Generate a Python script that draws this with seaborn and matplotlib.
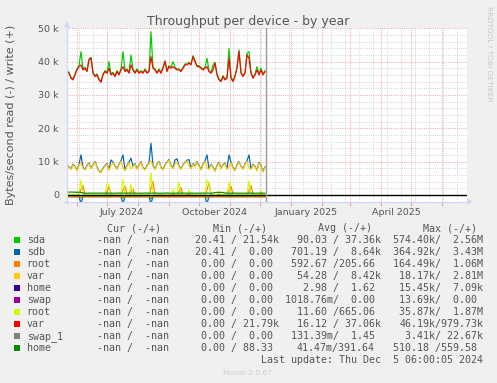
import matplotlib
matplotlib.use("Agg")
import matplotlib.pyplot as plt
import pandas as pd
import seaborn as sns
from matplotlib.lines import Line2D
from matplotlib.patches import Polygon, Rectangle

# ---------------- data (values in thousands of bytes/second) ----------------
dates = pd.date_range("2024-05-22", periods=100, freq="2D")

var_red_write = [
    37.0, 36.5, 35.0, 34.5, 36.0, 37.5, 38.5, 39.0, 37.5, 38.0,
    37.0, 40.5, 41.0, 36.5, 35.5, 36.0, 34.5, 33.8, 36.0, 37.0,
    36.5, 38.0, 36.0, 36.5, 35.5, 37.0, 36.0, 37.5, 38.5, 37.0,
    37.5, 36.5, 39.0, 37.5, 36.5, 37.5, 36.5, 37.0, 36.5, 37.5,
    36.5, 37.0, 41.5, 38.0, 37.5, 36.5, 37.5, 36.5, 38.0, 40.0,
    37.0, 38.5, 38.0, 38.5, 38.0, 37.5, 37.5, 37.0, 38.0, 39.0,
    39.0, 39.5, 39.0, 41.5, 40.0, 38.5, 38.5, 38.0, 37.5, 38.0,
    38.5, 37.0, 36.5, 37.5, 39.5, 36.0, 34.5, 34.0, 35.5, 34.5,
    35.0, 41.0, 35.0, 34.0, 35.5, 38.0, 43.0, 36.5, 35.5, 36.5,
    42.0, 41.0, 36.5, 35.0, 36.0, 37.5, 36.0, 37.5, 36.0, 37.0]

sda_write = [
    37.3, 36.8, 35.3, 34.8, 36.3, 37.8, 38.8, 43.0, 37.8, 38.3,
    37.3, 40.8, 41.3, 36.8, 35.8, 36.3, 34.8, 34.1, 36.3, 37.3,
    36.8, 40.0, 36.3, 36.8, 35.8, 37.3, 36.3, 37.8, 43.0, 37.3,
    37.8, 36.8, 42.0, 37.8, 36.8, 37.8, 36.8, 37.3, 36.8, 37.8,
    36.8, 37.3, 49.0, 38.3, 37.8, 36.8, 37.8, 36.8, 38.3, 40.3,
    37.3, 38.8, 38.3, 40.0, 38.3, 37.8, 37.8, 37.3, 38.3, 39.3,
    39.3, 39.8, 39.3, 41.8, 40.3, 38.8, 38.8, 38.3, 37.8, 38.3,
    41.0, 37.3, 36.8, 39.0, 39.8, 36.3, 34.8, 34.3, 35.8, 34.8,
    35.3, 44.0, 35.3, 34.3, 35.8, 38.3, 43.5, 36.8, 35.8, 36.8,
    42.5, 43.0, 36.8, 35.3, 36.3, 38.5, 36.3, 38.0, 36.3, 37.3]

var_yellow_write = [
    8.8, 8.2, 7.6, 9.0, 8.4, 7.2, 8.9, 9.6, 8.0, 7.4,
    8.6, 9.4, 7.8, 8.8, 9.8, 8.2, 7.0, 6.6, 7.8, 8.6,
    9.2, 7.4, 8.8, 9.6, 8.4, 7.6, 9.0, 10.0, 8.2, 7.2,
    8.6, 9.6, 7.8, 8.4, 9.2, 7.6, 8.8, 9.8, 8.0, 7.4,
    8.6, 9.4, 10.2, 8.6, 7.6, 9.0, 9.8, 8.2, 7.4, 8.8,
    9.6, 10.4, 8.6, 7.8, 9.2, 9.8, 8.4, 7.6, 8.8, 9.6,
    10.2, 8.8, 7.8, 9.2, 8.4, 9.8, 8.6, 7.4, 9.0, 10.0,
    8.2, 7.6, 9.0, 8.2, 7.0, 8.6, 9.6, 7.8, 8.8, 9.4,
    7.6, 8.4, 9.6, 8.0, 7.2, 8.8, 9.8, 8.4, 7.6, 9.2,
    10.0, 8.2, 7.6, 9.0, 8.4, 7.2, 9.6, 8.6, 6.8, 8.2]

sdb_write = [
    9.0, 8.4, 7.8, 9.2, 8.6, 7.4, 9.1, 12.0, 8.2, 7.6,
    8.8, 9.6, 8.0, 9.0, 10.0, 8.4, 7.2, 6.8, 8.0, 8.8,
    9.4, 7.6, 10.5, 9.8, 8.6, 7.8, 9.2, 10.2, 12.0, 7.4,
    8.8, 9.8, 11.0, 8.6, 9.4, 7.8, 9.0, 10.0, 8.2, 7.6,
    8.8, 9.6, 15.5, 8.8, 7.8, 9.2, 10.0, 8.4, 7.6, 9.0,
    9.8, 10.6, 8.8, 8.0, 10.5, 10.8, 8.6, 7.8, 9.0, 9.8,
    10.4, 10.6, 8.0, 9.4, 8.6, 10.0, 8.8, 7.6, 9.2, 10.2,
    12.0, 7.8, 9.2, 8.4, 7.2, 8.8, 9.8, 8.0, 9.0, 9.6,
    7.8, 12.0, 9.8, 8.2, 7.4, 9.0, 10.0, 8.6, 7.8, 9.4,
    10.2, 12.0, 7.8, 9.2, 8.6, 7.4, 9.8, 8.8, 7.0, 8.4]

root_lime_write = [
    0.1, 0.1, 0.1, 0.1, 0.1, 0.1, 0.1, 4.5, 0.3, 0.1,
    0.1, 0.1, 0.1, 0.1, 0.1, 0.1, 0.1, 0.1, 0.1, 0.1,
    3.4, 3.0, 0.3, 0.1, 0.1, 0.1, 0.1, 0.1, 4.6, 0.3,
    0.1, 0.1, 3.2, 0.1, 0.1, 0.1, 0.1, 0.1, 0.1, 0.1,
    0.1, 0.1, 6.6, 0.5, 0.1, 0.1, 0.1, 0.1, 0.1, 0.1,
    0.1, 0.1, 0.1, 1.6, 0.1, 0.1, 3.8, 0.3, 0.1, 0.1,
    0.1, 1.4, 0.1, 0.1, 0.1, 0.1, 0.1, 0.1, 0.1, 0.1,
    4.5, 3.2, 0.3, 0.1, 0.1, 0.1, 1.0, 0.1, 0.1, 0.1,
    0.1, 3.9, 0.3, 0.1, 0.1, 0.1, 0.1, 0.1, 0.1, 0.1,
    0.1, 4.2, 0.3, 0.1, 0.1, 0.1, 0.1, 1.2, 0.1, 0.1]

root_orange_write = [
    0.1, 0.1, 0.1, 0.1, 0.1, 0.1, 0.1, 1.5, 2.8, 0.1,
    0.1, 0.1, 0.1, 0.1, 0.1, 0.1, 0.1, 0.1, 0.1, 0.1,
    1.0, 2.4, 0.1, 0.1, 0.1, 0.1, 0.1, 0.1, 1.5, 2.6,
    0.1, 0.1, 1.0, 1.8, 0.1, 0.1, 0.1, 0.1, 0.1, 0.1,
    0.1, 0.1, 2.0, 4.0, 0.1, 0.1, 0.1, 0.1, 0.1, 0.1,
    0.1, 0.1, 0.1, 0.1, 0.1, 0.1, 1.0, 2.2, 0.1, 0.1,
    0.1, 0.1, 0.1, 0.1, 0.1, 0.1, 0.1, 0.1, 0.1, 0.1,
    1.5, 3.6, 0.1, 0.1, 0.1, 0.1, 0.1, 0.1, 0.1, 0.1,
    0.1, 1.2, 2.6, 0.1, 0.1, 0.1, 0.1, 0.1, 0.1, 0.1,
    0.1, 1.2, 2.8, 0.1, 0.1, 0.1, 0.1, 0.1, 0.1, 0.1]

root_orange_read = [
    -0.60, -0.61, -0.60, -0.59, -0.60, -0.62, -0.60, -0.63, -0.60, -0.59,
    -0.60, -0.61, -0.60, -0.60, -0.59, -0.60, -0.61, -0.60, -0.60, -0.59,
    -0.60, -0.62, -0.60, -0.60, -0.61, -0.60, -0.59, -0.60, -0.63, -0.60,
    -0.60, -0.61, -0.60, -0.59, -0.60, -0.60, -0.61, -0.60, -0.59, -0.60,
    -0.60, -0.61, -0.64, -0.60, -0.59, -0.60, -0.60, -0.61, -0.60, -0.60,
    -0.59, -0.60, -0.61, -0.60, -0.60, -0.59, -0.60, -0.61, -0.60, -0.60,
    -0.60, -0.59, -0.60, -0.61, -0.60, -0.60, -0.59, -0.60, -0.61, -0.60,
    -0.62, -0.60, -0.59, -0.60, -0.60, -0.61, -0.60, -0.60, -0.59, -0.60,
    -0.60, -0.61, -0.60, -0.60, -0.59, -0.60, -0.61, -0.60, -0.60, -0.59,
    -0.60, -0.61, -0.60, -0.60, -0.59, -0.60, -0.61, -0.60, -0.60, -0.60]

sdb_read = [
    -0.55, -0.55, -0.55, -0.55, -0.55, -0.55, -0.55, -2.60, -0.60, -0.55,
    -0.55, -0.55, -0.55, -0.55, -0.55, -0.55, -0.55, -0.55, -0.55, -0.55,
    -0.55, -0.55, -0.55, -0.55, -0.55, -0.55, -0.55, -0.55, -2.60, -0.60,
    -0.55, -0.55, -0.55, -0.55, -0.55, -0.55, -0.55, -0.55, -0.55, -0.55,
    -0.55, -0.55, -2.60, -0.60, -0.55, -0.55, -0.55, -0.55, -0.55, -0.55,
    -0.55, -0.55, -0.55, -0.55, -0.55, -0.55, -0.55, -0.55, -0.55, -0.55,
    -0.55, -0.55, -0.55, -0.55, -0.55, -0.55, -0.55, -0.55, -0.55, -0.55,
    -2.60, -0.60, -0.55, -0.55, -0.55, -0.55, -0.55, -0.55, -0.55, -0.55,
    -0.55, -0.55, -0.55, -0.55, -0.55, -0.55, -0.55, -0.55, -0.55, -0.55,
    -0.55, -0.55, -0.55, -0.55, -0.55, -0.55, -0.55, -0.55, -0.55, -0.55]

sda_read = [
    -0.10, -0.10, -0.10, -0.10, -0.10, -0.10, -0.10, -1.00, -0.20, -0.10,
    -0.10, -0.10, -0.10, -0.30, -0.10, -0.10, -0.10, -0.10, -0.10, -0.10,
    -0.10, -0.10, -0.10, -0.10, -0.10, -0.10, -0.10, -0.10, -1.00, -0.20,
    -0.10, -0.10, -0.10, -0.10, -0.10, -0.10, -0.10, -0.10, -0.10, -0.10,
    -0.10, -0.10, -1.20, -0.20, -0.10, -0.10, -0.10, -0.10, -0.10, -0.10,
    -0.10, -0.10, -0.10, -0.10, -0.10, -0.10, -0.10, -0.10, -0.10, -0.10,
    -0.10, -0.10, -0.10, -0.10, -0.10, -0.10, -0.10, -0.10, -0.10, -0.10,
    -0.90, -0.20, -0.10, -0.10, -0.10, -0.10, -0.10, -0.10, -0.10, -0.10,
    -0.10, -0.10, -0.10, -0.10, -0.10, -0.10, -0.10, -0.10, -0.10, -0.10,
    -0.10, -0.10, -0.10, -0.10, -0.10, -0.10, -0.10, -0.10, -0.10, -0.10]

home_green_write = [
    0.85, 0.80, 0.85, 0.80, 0.80, 0.75, 0.80, 0.70, 0.55, 0.50,
    0.50, 0.50, 0.55, 0.50, 0.50, 0.50, 0.50, 0.55, 0.50, 0.50,
    0.50, 0.55, 0.50, 0.50, 0.50, 0.50, 0.55, 0.50, 0.50, 0.50,
    0.50, 0.50, 0.50, 0.55, 0.50, 0.50, 0.50, 0.50, 0.50, 0.55,
    0.50, 0.50, 0.50, 0.50, 0.55, 0.50, 0.50, 0.50, 0.50, 0.50,
    0.55, 0.50, 0.50, 0.50, 0.50, 0.50, 0.50, 0.55, 0.50, 0.50,
    0.50, 0.50, 0.55, 0.50, 0.50, 0.50, 0.50, 0.50, 0.55, 0.50,
    0.50, 0.50, 0.50, 0.55, 0.70, 0.75, 0.70, 0.75, 0.70, 0.55,
    0.50, 0.50, 0.50, 0.50, 0.55, 0.50, 0.50, 0.50, 0.50, 0.50,
    0.50, 0.55, 0.50, 0.50, 0.50, 0.50, 0.50, 0.55, 0.50, 0.50]

# legend table
leg_labels = ["sda", "sdb", "root", "var", "home", "swap", "root", "var", "swap_1", "home"]
leg_colors = ["#00CC00", "#0066B3", "#FF8000", "#FFCC00", "#330099",
              "#990099", "#CCFF00", "#FF0000", "#808080", "#008F00"]
col_cur = ["  -nan /  -nan ", "  -nan /  -nan ", "  -nan /  -nan ", "  -nan /  -nan ",
           "  -nan /  -nan ", "  -nan /  -nan ", "  -nan /  -nan ", "  -nan /  -nan ",
           "  -nan /  -nan ", "  -nan /  -nan "]
col_min = [" 20.41 / 21.54k", " 20.41 /  0.00 ", "  0.00 /  0.00 ", "  0.00 /  0.00 ",
           "  0.00 /  0.00 ", "  0.00 /  0.00 ", "  0.00 /  0.00 ", "  0.00 / 21.79k",
           "  0.00 /  0.00 ", "  0.00 / 88.33 "]
col_avg = [" 90.03 / 37.36k", "701.19 /  8.64k", "592.67 /205.66 ", " 54.28 /  8.42k",
           "  2.98 /  1.62 ", "1018.76m/  0.00 ", " 11.60 /665.06 ", " 16.12 / 37.06k",
           "131.39m/  1.45 ", " 41.47m/391.64 "]
col_max = ["574.40k/  2.56M", "364.92k/  3.43M", "164.49k/  1.06M", " 18.17k/  2.81M",
           " 15.45k/  7.09k", " 13.69k/  0.00 ", " 35.87k/  1.87M", " 46.19k/979.73k",
           "  3.41k/ 22.67k", "510.18 /559.58 "]
headers = ["Cur (-/+)", "Min (-/+)", "Avg (-/+)", "Max (-/+)"]

y_ticks = [0, 10, 20, 30, 40, 50]
y_tick_labels = ["0", "10 k", "20 k", "30 k", "40 k", "50 k"]
x_label_dates = ["2024-07-16", "2024-10-16", "2025-01-16", "2025-04-16"]
x_tick_labels = ["July 2024", "October 2024", "January 2025", "April 2025"]

title = "Throughput per device - by year"
ylabel = "Bytes/second read (-) / write (+)"
last_update = "Last update: Thu Dec  5 06:00:05 2024"

# ---------------- figure ----------------
W, H = 497, 383
fig = plt.figure(figsize=(W / 100, H / 100), dpi=100, facecolor="#F0F0F0")
L, R, T, B = 67, 467, 28.3, 201.5
fx = lambda x: x / W
fy = lambda y: 1 - y / H
ax = fig.add_axes([fx(L), fy(B), (R - L) / W, (B - T) / H])
ax.set_facecolor("white")

x0, x1 = pd.Timestamp("2024-05-22"), pd.Timestamp("2025-06-26")

# grid
dot = (0, (1, 1.2))
for v in [2, 4, 6, 8, 12, 14, 16, 18, 22, 24, 26, 28, 32, 34, 36, 38, 42, 44, 46, 48]:
    ax.axhline(v, color="#D8D8D8", lw=0.72, ls=dot, zorder=0.5)
for d in pd.date_range("2024-06-03", "2025-06-26", freq="14D"):
    ax.axvline(d, color="#D8D8D8", lw=0.72, ls=dot, zorder=0.5)
for v in [10, 20, 30, 40, 50]:
    ax.axhline(v, color="#F2A8A8", lw=0.72, ls=dot, zorder=0.6, clip_on=False)
for d in pd.date_range("2024-06-01", "2025-06-01", freq="MS"):
    ax.axvline(d, color="#F2A8A8", lw=0.72, ls=dot, zorder=0.6)

lw = 0.85
series = [
    (sda_write, "#00CC00"), (sda_read, "#00CC00"),
    (sdb_write, "#0066B3"), (sdb_read, "#0066B3"),
    (root_orange_write, "#FF8000"), (root_orange_read, "#FF8000"),
    (var_yellow_write, "#FFCC00"),
    (root_lime_write, "#CCFF00"),
    (var_red_write, "#FF0000"),
    (home_green_write, "#008F00"),
]
for vals, c in series:
    sns.lineplot(x=dates, y=vals, color=c, lw=lw, ax=ax, legend=False, estimator=None)

ax.axhline(0, color="black", lw=1.0, zorder=2.5)
ax.axvline(pd.Timestamp("2024-12-06 12:00"), color="#9A9A9A", lw=1.0, zorder=2.6)

ax.set_xlim(x0, x1)
ax.set_ylim(-2, 50)
for s in ax.spines.values():
    s.set_visible(False)
ax.set_xlabel("")
ax.set_ylabel("")

ax.set_yticks(y_ticks)
ax.set_yticklabels(y_tick_labels)
ax.set_xticks(pd.to_datetime(x_label_dates))
ax.set_xticklabels(x_tick_labels)
ax.tick_params(axis="both", which="major", length=0, labelsize=6.8, labelcolor="#555555")
ax.tick_params(axis="y", pad=5.8)
ax.tick_params(axis="x", pad=4.5)
ax.set_xticks(pd.date_range("2024-06-01", "2025-06-01", freq="MS"), minor=True)
ax.tick_params(axis="x", which="minor", length=3, width=0.8, color="#F2A0A0", direction="out")
ax.tick_params(axis="y", which="minor", length=0)

# axes lines with arrows (rrdtool style)
axis_col = "#CFD6F8"
fig.add_artist(Line2D([fx(L), fx(L)], [fy(B + 3), fy(T - 2)], color=axis_col, lw=0.9))
fig.add_artist(Line2D([fx(L - 3), fx(R)], [fy(B), fy(B)], color=axis_col, lw=0.9))
fig.add_artist(Polygon([[fx(L), fy(T - 7)], [fx(L - 3), fy(T - 1)], [fx(L + 3), fy(T - 1)]],
                       closed=True, color=axis_col, lw=0))
fig.add_artist(Polygon([[fx(R + 6), fy(B)], [fx(R), fy(B - 3)], [fx(R), fy(B + 3)]],
                       closed=True, color=axis_col, lw=0))

# title, y label, watermark
fig.text(fx(248.5), fy(25), title, ha="center", va="baseline", fontsize=9, color="#555555")
fig.text(fx(11), fy(115), ylabel, rotation=90, ha="center", va="center",
         fontsize=8, color="#555555")
fig.text(fx(488.5), fy(53.5), "RRDTOOL / TOBI OETIKER", rotation=270, ha="center",
         va="center", fontsize=5.4, color="#C8C8C8")
fig.text(fx(247.5), fy(375), "Munin 2.0.67", ha="center", va="baseline",
         fontsize=5.4, color="#CCCCCC")

# legend table
mono = dict(family="DejaVu Sans Mono", fontsize=7.2, color="#555555")
cw = 7.2 * 100 / 72 * 0.6021


def put_right(s, x_end_ink, y_base):
    n_trail = len(s) - len(s.rstrip(" "))
    fig.text(fx(x_end_ink - n_trail * cw), fy(y_base), s.strip(), ha="right",
             va="baseline", **mono)


for hx, htxt in zip([107.3, 213.3, 317.7, 422.7], headers):
    fig.text(fx(hx), fy(231.3), htxt, ha="left", va="baseline", **mono)

for i, lab in enumerate(leg_labels):
    yb = 243.3 + 12 * i
    fig.add_artist(Rectangle((fx(14), fy(yb - 0.3)), 6 / W, 6 / H, color=leg_colors[i], lw=0))
    fig.text(fx(26.7), fy(yb), lab, ha="left", va="baseline", **mono)
    put_right(col_cur[i], 175.5, yb)
    put_right(col_min[i], 279.0, yb)
    put_right(col_avg[i], 381.0, yb)
    put_right(col_max[i], 483.3, yb)

fig.text(fx(482.7), fy(363.3), last_update, ha="right", va="baseline", **mono)

fig.savefig("out.png", dpi=100, facecolor=fig.get_facecolor())
